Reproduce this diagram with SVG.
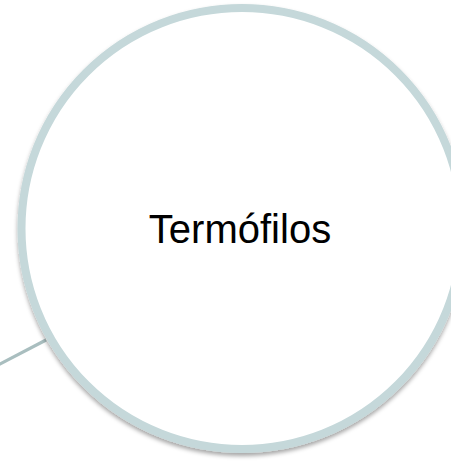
<svg xmlns="http://www.w3.org/2000/svg" width="451" height="461" viewBox="0 0 451 461">
  <style>
    .ring { fill: #ffffff; stroke: #c5d8da; stroke-width: 8; }
    .link { stroke: #a9bebf; stroke-width: 3.2; fill: none; }
    .label { font-family: "Liberation Sans", Arial, sans-serif; font-size: 40px; fill: #000000; text-anchor: middle; }
  </style>
  <defs>
    <filter id="shadow" x="-10%" y="-10%" width="120%" height="120%">
      <feDropShadow dx="0" dy="3" stdDeviation="2.2" flood-color="#000000" flood-opacity="0.35"/>
    </filter>
  </defs>
  <rect width="451" height="461" fill="#ffffff"/>
  <g id="connectors">
    <line class="link" x1="-2" y1="365" x2="46" y2="340"/>
  </g>
  <g id="node-termofilos">
    <circle class="ring" cx="242" cy="228.5" r="220.5" filter="url(#shadow)"/>
    <text class="label" x="240" y="243">Termófilos</text>
  </g>
</svg>
